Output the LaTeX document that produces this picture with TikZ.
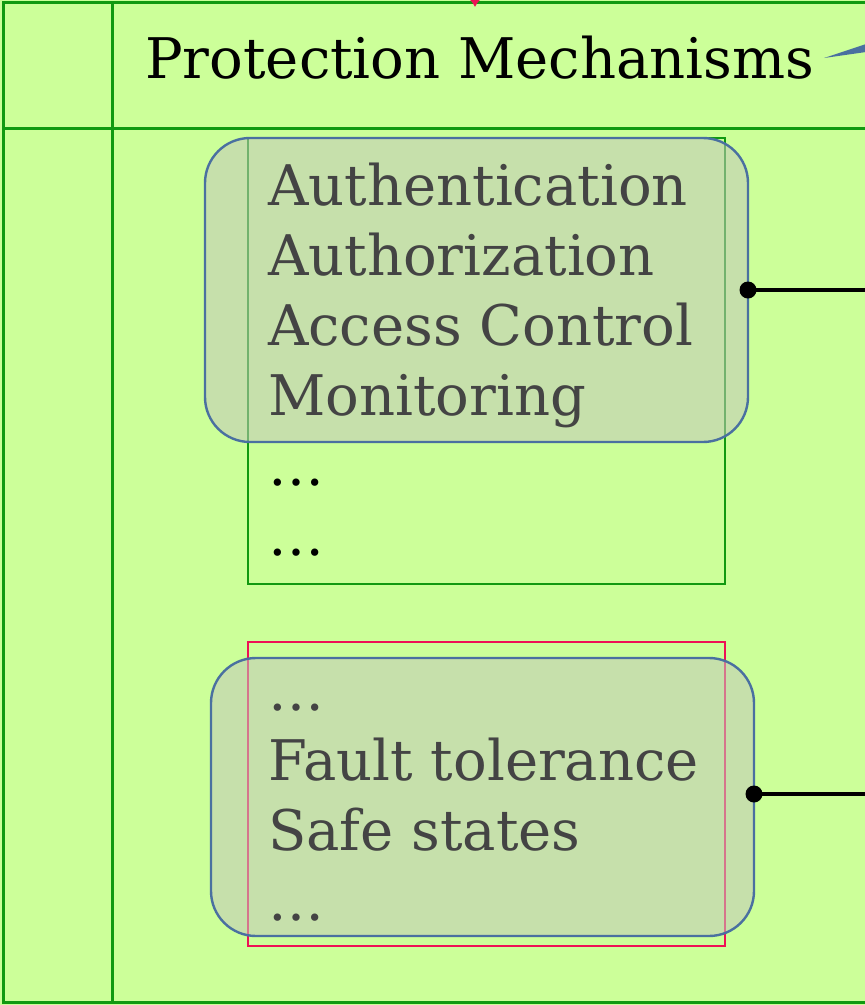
\documentclass[tikz,border=0pt]{standalone}
\usepackage{fontspec}
\setmainfont{DejaVu Serif}
\usetikzlibrary{arrows.meta}
\definecolor{bgfill}{HTML}{CCFF99}
\definecolor{frame}{HTML}{119911}
\definecolor{redline}{HTML}{EE1155}
\definecolor{boxblue}{HTML}{4A70A0}
\definecolor{boxfill}{HTML}{C2C8BA}
\definecolor{itemtext}{HTML}{444444}
\tikzset{
  framestyle/.style={draw=frame, line width=3pt},
  groupbox/.style={rounded corners=45pt, draw=boxblue, line width=2.4pt, fill=boxfill, fill opacity=0.55},
  textbase/.style={anchor=base west, inner sep=0pt, font=\fontsize{56}{70}\selectfont},
  item/.style={textbase, text=itemtext},
  dots/.style={textbase, text=black},
  link/.style={draw=black, line width=3.6pt},
  pin/.style={circle, fill=black, inner sep=0pt, minimum size=17pt},
}
\begin{document}
\begin{tikzpicture}[x=1pt, y=-1pt]
\useasboundingbox (0,0) rectangle (865,1005);
\fill[bgfill] (0,0) rectangle (865,1005);

% table frame
\draw[framestyle] (875,2) -- (3,2) -- (3,1002) -- (875,1002);
\draw[framestyle] (112,2) -- (112,1002);
\draw[framestyle] (3,128) -- (875,128);

% header
\node[textbase, text=black] (title) at (145,78) {Protection Mechanisms};

% incoming arrow tip at the top border
\coordinate (topin) at (475,-20);
\coordinate (toptip) at (475,7);
\draw[redline, line width=1.5pt, -{Latex[length=8pt,width=12pt]}] (topin) -- (toptip);

% callout pointer at the header
\coordinate (calloutA) at (824,58);
\fill[boxblue] (calloutA) -- (866,44) -- (866,52) -- cycle;

% security group
\draw[frame, line width=2pt] (248,138) rectangle (725,584);
\draw[groupbox] (205,138) rectangle (748,442);
\node[item] (auth) at (268,205) {Authentication};
\node[item] (authz) at (268,275) {Authorization};
\node[item] (access) at (268,345) {Access Control};
\node[item] (monitor) at (268,415) {Monitoring};
\node[dots] (moreA) at (268,485) {\dots};
\node[dots] (moreB) at (268,555) {\dots};

% safety group
\draw[redline, line width=1.6pt] (248,642) rectangle (725,946);
\draw[groupbox] (211,658) rectangle (754,936);
\node[item] (moreC) at (268,710) {\dots};
\node[item] (fault) at (268,780) {Fault tolerance};
\node[item] (safe) at (268,850) {Safe states};
\node[item] (moreD) at (268,920) {\dots};

% outgoing links
\node[pin] (pinA) at (748,290) {};
\node[pin] (pinB) at (754,794) {};
\coordinate (outA) at (870,290);
\coordinate (outB) at (870,794);
\draw[link] (pinA.center) -- (outA);
\draw[link] (pinB.center) -- (outB);
\end{tikzpicture}
\end{document}
